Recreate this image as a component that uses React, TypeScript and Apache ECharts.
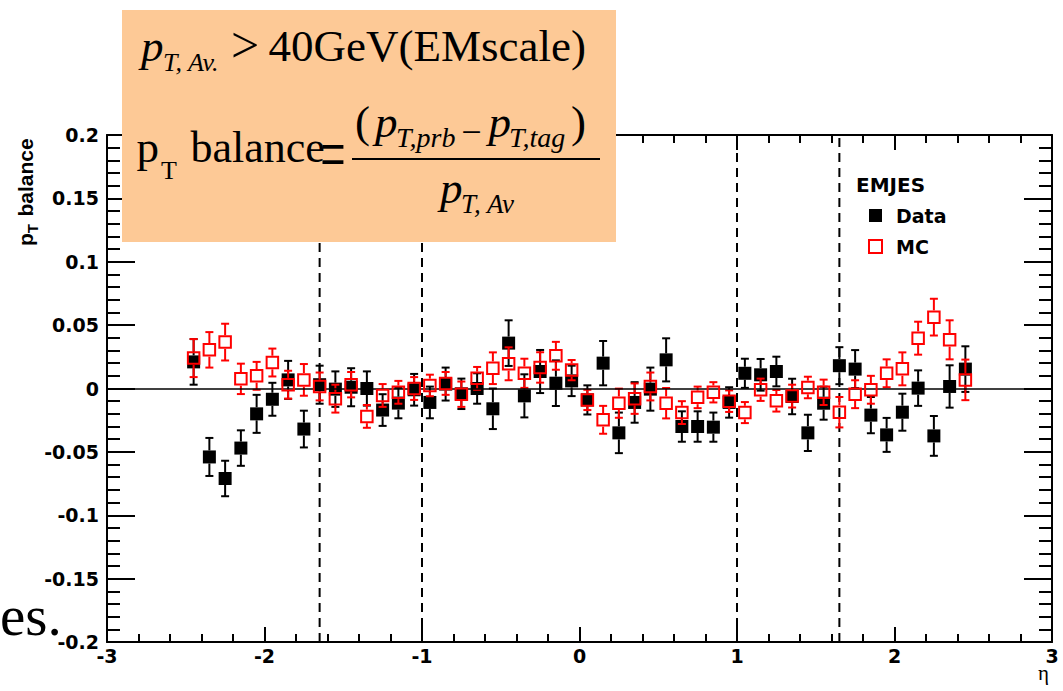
import React, { useEffect, useRef } from 'react';
import * as echarts from 'echarts';

// ---------- data ----------
const etaBins = [
  -2.45, -2.35, -2.25, -2.15, -2.05, -1.95, -1.85, -1.75, -1.65, -1.55,
  -1.45, -1.35, -1.25, -1.15, -1.05, -0.95, -0.85, -0.75, -0.65, -0.55,
  -0.45, -0.35, -0.25, -0.15, -0.05, 0.05, 0.15, 0.25, 0.35, 0.45,
  0.55, 0.65, 0.75, 0.85, 0.95, 1.05, 1.15, 1.25, 1.35, 1.45,
  1.55, 1.65, 1.75, 1.85, 1.95, 2.05, 2.15, 2.25, 2.35, 2.45,
];

const dataValues = [
  0.021, -0.054, -0.071, -0.047, -0.020, -0.0085, 0.0068, -0.032, 0.003, -0.0005,
  0.001, 0.0, -0.017, -0.0115, -0.001, -0.011, 0.0035, -0.0042, 0.0, -0.016,
  0.0358, -0.0058, 0.0134, 0.0042, 0.006, -0.009, 0.020, -0.035, -0.011, -0.0005,
  0.0226, -0.030, -0.030, -0.0305, -0.011, 0.012, 0.0108, 0.0134, -0.0063, -0.035,
  -0.0116, 0.018, 0.0153, -0.021, -0.0366, -0.0187, 0.0003, -0.0374, 0.0016, 0.0153,
];

const dataErrors = [
  0.018, 0.015, 0.014, 0.014, 0.015, 0.013, 0.015, 0.0145, 0.015, 0.014,
  0.015, 0.0135, 0.0125, 0.012, 0.0125, 0.0125, 0.013, 0.012, 0.012, 0.016,
  0.018, 0.017, 0.017, 0.018, 0.012, 0.0115, 0.0175, 0.016, 0.016, 0.017,
  0.017, 0.012, 0.012, 0.0115, 0.012, 0.0115, 0.0125, 0.0117, 0.014, 0.0143,
  0.013, 0.0146, 0.015, 0.0143, 0.0134, 0.0146, 0.014, 0.0157, 0.0167, 0.018,
];

const mcValues = [
  0.024, 0.0305, 0.0366, 0.0076, 0.010, 0.0205, 0.003, 0.0068, 0.0016, -0.008,
  0.003, -0.022, -0.0055, -0.003, 0.0, 0.0024, 0.004, -0.0045, 0.008, 0.016,
  0.0195, 0.012, 0.0166, 0.0258, 0.0145, -0.009, -0.0247, -0.0116, -0.008, 0.0016,
  -0.0116, -0.019, -0.007, -0.003, -0.010, -0.019, -0.001, -0.0097, -0.006, 0.0008,
  -0.003, -0.0187, -0.0045, -0.001, 0.012, 0.0155, 0.0397, 0.0563, 0.0384, 0.0068,
];

const mcErrors = [
  0.015, 0.014, 0.0145, 0.012, 0.011, 0.011, 0.011, 0.0125, 0.011, 0.011,
  0.010, 0.009, 0.009, 0.009, 0.009, 0.0085, 0.009, 0.010, 0.009, 0.0125,
  0.013, 0.0115, 0.012, 0.011, 0.008, 0.008, 0.011, 0.0115, 0.012, 0.011,
  0.012, 0.009, 0.0085, 0.008, 0.0085, 0.0083, 0.0088, 0.0085, 0.009, 0.0085,
  0.010, 0.012, 0.011, 0.011, 0.011, 0.013, 0.013, 0.0145, 0.0154, 0.016,
];

const etaBoundaries = [-1.65, -1.0, 1.0, 1.65];

const xTickLabels = ['-3', '-2', '-1', '0', '1', '2', '3'];
const yTickLabels = ['-0.2', '-0.15', '-0.1', '-0.05', '0', '0.05', '0.1', '0.15', '0.2'];
const X_MIN = -3;
const X_MAX = 3;
const X_STEP = 1;
const Y_MIN = -0.2;
const Y_MAX = 0.2;
const Y_STEP = 0.05;

const seriesNames = ['Data', 'MC'];
const legendTitle = 'EMJES';

// ---------- styling ----------
const SERIF = '"Liberation Serif", "Times New Roman", serif';
const PLOT_FONT = '"DejaVu Sans", sans-serif';
const ARIAL = '"Liberation Sans", Arial, sans-serif';
const BOX_COLOR = '#FDC996';
const RED = '#ff0000';

type TxtOpts = {
  italic?: boolean;
  family?: string;
  weight?: string;
  align?: string;
  central?: number;
  scaleX?: number;
  scaleY?: number;
  lineHeight?: number;
};

function txt(text: string, x: number, baseline: number, size: number, o: TxtOpts = {}) {
  const central = o.central ?? 0.3375;
  const el: any = {
    type: 'text',
    z: 100,
    x,
    y: baseline - central * size,
    silent: true,
    style: {
      text,
      fontSize: size,
      fontFamily: o.family ?? SERIF,
      fontStyle: o.italic ? 'italic' : 'normal',
      fontWeight: o.weight ?? 'normal',
      fill: '#000',
      align: o.align ?? 'left',
      verticalAlign: 'middle',
    },
  };
  if (o.lineHeight) el.style.lineHeight = o.lineHeight;
  if (o.scaleX) el.scaleX = o.scaleX;
  if (o.scaleY) el.scaleY = o.scaleY;
  return el;
}

function errorBarRenderer(color: string, half: number) {
  return (params: any, api: any) => {
    const x = api.value(0);
    const y = api.value(1);
    const e = api.value(2);
    const c = api.coord([x, y]);
    const t = api.coord([x, y + e]);
    const b = api.coord([x, y - e]);
    const cap = 4;
    const style = { stroke: color, lineWidth: 2 };
    const children: any[] = [];
    if (c[1] - half > t[1]) {
      children.push({ type: 'line', shape: { x1: c[0], y1: c[1] - half, x2: c[0], y2: t[1] }, style });
    }
    if (c[1] + half < b[1]) {
      children.push({ type: 'line', shape: { x1: c[0], y1: c[1] + half, x2: c[0], y2: b[1] }, style });
    }
    children.push({ type: 'line', shape: { x1: c[0] - cap, y1: t[1], x2: c[0] + cap, y2: t[1] }, style });
    children.push({ type: 'line', shape: { x1: c[0] - cap, y1: b[1], x2: c[0] + cap, y2: b[1] }, style });
    return { type: 'group', children };
  };
}

function boundaryRenderer(params: any, api: any) {
  const v = api.value(0);
  const p1 = api.coord([v, Y_MIN]);
  const p2 = api.coord([v, Y_MAX]);
  return {
    type: 'line',
    shape: { x1: p1[0], y1: p1[1], x2: p2[0], y2: p2[1] },
    style: { stroke: '#000', lineWidth: 2, lineDash: [9, 6], fill: null },
  };
}

function axisCommon(showLabels: boolean, isX: boolean) {
  return {
    axisLine: { show: true, onZero: false, lineStyle: { color: '#000', width: 2 } },
    axisTick: { show: true, inside: true, length: isX ? 15 : 28, lineStyle: { color: '#000', width: 2 } },
    minorTick: { show: true, splitNumber: 5, length: isX ? 8 : 13, lineStyle: { color: '#000', width: 2 } },
    splitLine: { show: false },
    minorSplitLine: { show: false },
    axisLabel: {
      show: showLabels,
      color: '#000',
      fontFamily: PLOT_FONT,
      fontWeight: 'bold',
      fontSize: 19,
      margin: isX ? 4 : 8,
      formatter: isX
        ? (v: number) => xTickLabels[Math.round((v - X_MIN) / X_STEP)] ?? ''
        : (v: number) => yTickLabels[Math.round((v - Y_MIN) / Y_STEP)] ?? '',
    },
  };
}

export default function App() {
  const ref = useRef<HTMLDivElement>(null);

  useEffect(() => {
    if (!ref.current) return;
    const chart = echarts.init(ref.current, undefined, { renderer: 'svg' });

    const xBase = { type: 'value', min: X_MIN, max: X_MAX, interval: X_STEP };
    const yBase = { type: 'value', min: Y_MIN, max: Y_MAX, interval: Y_STEP };

    const boxTexts = [
      { type: 'rect', z: 99, silent: true, shape: { x: 122, y: 10, width: 494, height: 232 }, style: { fill: BOX_COLOR } },
      // line 1: p_{T, Av.} > 40GeV(EMscale)
      txt('p', 141, 61.5, 45, { italic: true }),
      txt('T, Av.', 163, 71.5, 26, { italic: true }),
      txt('>', 245, 62, 50, { align: 'center' }),
      txt('40GeV(EMscale)', 268.5, 61.5, 45),
      // line 2: p_T balance = (p_{T,prb} - p_{T,tag}) / p_{T,Av}
      txt('p', 136.5, 162, 45),
      txt('T', 161, 179, 26),
      txt('balance', 190.5, 162, 44),
      { ...txt('=', 333, 161, 45, { align: 'center', scaleY: 1.7 }), y: 154.3 },
      txt('(', 355, 137, 45),
      txt('p', 375, 137, 45, { italic: true }),
      txt('T,prb', 396, 147, 28, { italic: true }),
      { ...txt('\u2212', 471.5, 137, 36, { align: 'center' }), y: 131.8 },
      txt('p', 488.5, 137, 45, { italic: true }),
      txt('T,tag', 509, 147, 28, { italic: true }),
      txt(')', 571, 137, 45),
      { type: 'line', z: 100, silent: true, shape: { x1: 352, y1: 159, x2: 600, y2: 159 }, style: { stroke: '#000', lineWidth: 2 } },
      txt('p', 440, 203, 45, { italic: true }),
      txt('T, Av', 461, 213, 27, { italic: true }),
    ];

    const yTitle = {
      type: 'group',
      x: 33,
      y: 246,
      rotation: Math.PI / 2,
      silent: true,
      children: [
        { type: 'text', x: 0, y: -0.3465 * 21, style: { text: 'p', fontSize: 21, fontFamily: ARIAL, fontWeight: 'bold', fill: '#000', align: 'left', verticalAlign: 'middle' } },
        { type: 'text', x: 12.8, y: 5 - 0.3465 * 15, style: { text: 'T', fontSize: 15, fontFamily: ARIAL, fontWeight: 'bold', fill: '#000', align: 'left', verticalAlign: 'middle' } },
        { type: 'text', x: 29.5, y: -0.3465 * 21, style: { text: 'balance', fontSize: 21, fontFamily: ARIAL, fontWeight: 'bold', fill: '#000', align: 'left', verticalAlign: 'middle' } },
      ],
    };

    const option: any = {
      animation: false,
      backgroundColor: '#fff',
      grid: { left: 107, right: 11, top: 135, bottom: 49, containLabel: false },
      xAxis: [
        { ...xBase, position: 'bottom', ...axisCommon(true, true) },
        { ...xBase, position: 'top', ...axisCommon(false, true) },
      ],
      yAxis: [
        { ...yBase, position: 'left', ...axisCommon(true, false) },
        { ...yBase, position: 'right', ...axisCommon(false, false) },
      ],
      legend: {
        orient: 'vertical',
        left: 868,
        top: 206,
        padding: 0,
        itemWidth: 13,
        itemHeight: 13,
        itemGap: 12,
        selectedMode: false,
        data: seriesNames,
        textStyle: {
          color: '#000',
          fontFamily: PLOT_FONT,
          fontWeight: 'bold',
          fontSize: 19,
          padding: [0, 0, 0, 9],
        },
      },
      graphic: [
        ...boxTexts,
        yTitle,
        txt(legendTitle, 856, 185 + 0.346 * 20, 20, { family: PLOT_FONT, weight: 'bold', central: 0.346 }),
        txt('es.', 0, 635, 57, { lineHeight: 28 }),
        txt('\u03b7', 1038, 680, 21, { lineHeight: 10 }),
      ],
      series: [
        {
          name: 'boundaries',
          type: 'custom',
          z: 1,
          silent: true,
          clip: false,
          encode: { x: 0 },
          data: etaBoundaries.map((v) => [v]),
          renderItem: boundaryRenderer,
        },
        {
          name: 'zero',
          type: 'line',
          data: [],
          silent: true,
          z: 1,
          markLine: {
            silent: true,
            symbol: ['none', 'none'],
            label: { show: false },
            emphasis: { disabled: true },
            lineStyle: { type: 'solid', width: 1.5, color: '#000' },
            data: [{ yAxis: 0 }],
          },
        },
        {
          name: 'Data errors',
          type: 'custom',
          z: 2,
          silent: true,
          clip: false,
          encode: { x: 0, y: 1 },
          data: etaBins.map((x, i) => [x, dataValues[i], dataErrors[i]]),
          renderItem: errorBarRenderer('#000', 6.5),
        },
        {
          name: seriesNames[0],
          type: 'scatter',
          z: 3,
          silent: true,
          symbol: 'rect',
          symbolSize: 13,
          itemStyle: { color: '#000', opacity: 1 },
          emphasis: { disabled: true },
          data: etaBins.map((x, i) => [x, dataValues[i]]),
        },
        {
          name: 'MC errors',
          type: 'custom',
          z: 4,
          silent: true,
          clip: false,
          encode: { x: 0, y: 1 },
          data: etaBins.map((x, i) => [x, mcValues[i], mcErrors[i]]),
          renderItem: errorBarRenderer(RED, 6.8),
        },
        {
          name: seriesNames[1],
          type: 'scatter',
          z: 5,
          silent: true,
          symbol: 'rect',
          symbolSize: 11.5,
          itemStyle: { color: 'rgba(0,0,0,0)', borderColor: RED, borderWidth: 2, opacity: 1 },
          emphasis: { disabled: true },
          data: etaBins.map((x, i) => [x, mcValues[i]]),
        },
      ],
    };

    chart.setOption(option);
    return () => chart.dispose();
  }, []);

  return (
    <div
      ref={ref}
      style={{ position: 'fixed', left: 0, top: 0, width: 1063, height: 691, background: '#fff' }}
    />
  );
}
